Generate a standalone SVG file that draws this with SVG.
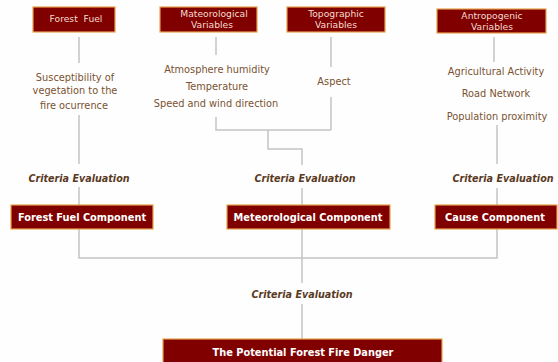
<svg xmlns="http://www.w3.org/2000/svg" width="558" height="362" viewBox="0 0 558 362">
<style>
.box{fill:#800000;stroke:#e6a04a;stroke-width:1.2}
.top{font-family:"DejaVu Sans",Verdana,sans-serif;font-size:9.2px;fill:#f3dcd0;text-anchor:middle}
.comp{font-family:"DejaVu Sans",Verdana,sans-serif;font-size:9.8px;font-weight:bold;fill:#ffffff;text-anchor:middle}
.item{font-family:"DejaVu Sans",Verdana,sans-serif;font-size:9.8px;fill:#7a5230;text-anchor:middle}
.crit{font-family:"DejaVu Sans",Verdana,sans-serif;font-size:9.6px;font-weight:bold;font-style:italic;fill:#5a3a1e;text-anchor:middle}
.ln{fill:none;stroke:#c4c4c4;stroke-width:1.5}
</style>
<rect width="558" height="362" fill="#fefefe"/>
<g id="connectors">
<path class="ln" d="M79 37V63M79 115V164M79 187V205M79 229V258H497V229"/>
<path class="ln" d="M216 37V55M216 117V130H331M331 37V67M331 97V130M268 130V149H302V165M302 188V205M302 229V283M302 304V339"/>
<path class="ln" d="M494 37V62M497 125V164M497 188V205"/>
</g>
<g id="forest-fuel">
<rect class="box" x="33" y="7" width="82" height="25"/>
<text class="top" x="76" y="22" xml:space="preserve">Forest  Fuel</text>
</g>
<g id="meteorological-variables">
<rect class="box" x="160" y="7" width="97" height="25"/>
<text class="top" x="214" y="17">Mateorological</text>
<text class="top" x="212" y="28">Variables</text>
</g>
<g id="topographic-variables">
<rect class="box" x="287" y="7" width="98" height="25"/>
<text class="top" x="336" y="17">Topographic</text>
<text class="top" x="336" y="28">Variables</text>
</g>
<g id="antropogenic-variables">
<rect class="box" x="437" y="9" width="109" height="24"/>
<text class="top" x="492" y="19">Antropogenic</text>
<text class="top" x="492" y="30">Variables</text>
</g>
<g id="susceptibility">
<text class="item" x="75" y="81">Susceptibility of</text>
<text class="item" x="75" y="94">vegetation to the</text>
<text class="item" x="74" y="109">fire ocurrence</text>
</g>
<g id="meteo-items">
<text class="item" x="217" y="73">Atmosphere humidity</text>
<text class="item" x="217" y="90">Temperature</text>
<text class="item" x="216" y="107">Speed and wind direction</text>
</g>
<g id="aspect">
<text class="item" x="334" y="85">Aspect</text>
</g>
<g id="antro-items">
<text class="item" x="496" y="75">Agricultural Activity</text>
<text class="item" x="496" y="97">Road Network</text>
<text class="item" x="497" y="120">Population proximity</text>
</g>
<g id="criteria-1"><text class="crit" x="79" y="182">Criteria Evaluation</text></g>
<g id="criteria-2"><text class="crit" x="305" y="182">Criteria Evaluation</text></g>
<g id="criteria-3"><text class="crit" x="503" y="182">Criteria Evaluation</text></g>
<g id="criteria-4"><text class="crit" x="302" y="298">Criteria Evaluation</text></g>
<g id="forest-fuel-component">
<rect class="box" x="11" y="205" width="142" height="24"/>
<text class="comp" x="82" y="220.5">Forest Fuel Component</text>
</g>
<g id="meteorological-component">
<rect class="box" x="227" y="205" width="163" height="24"/>
<text class="comp" x="308" y="220.5">Meteorological Component</text>
</g>
<g id="cause-component">
<rect class="box" x="435" y="205" width="122" height="24"/>
<text class="comp" x="495" y="220.5">Cause Component</text>
</g>
<g id="potential-danger">
<rect class="box" x="163" y="339" width="279" height="28"/>
<text class="comp" x="303" y="355.5">The Potential Forest Fire Danger</text>
</g>
</svg>
